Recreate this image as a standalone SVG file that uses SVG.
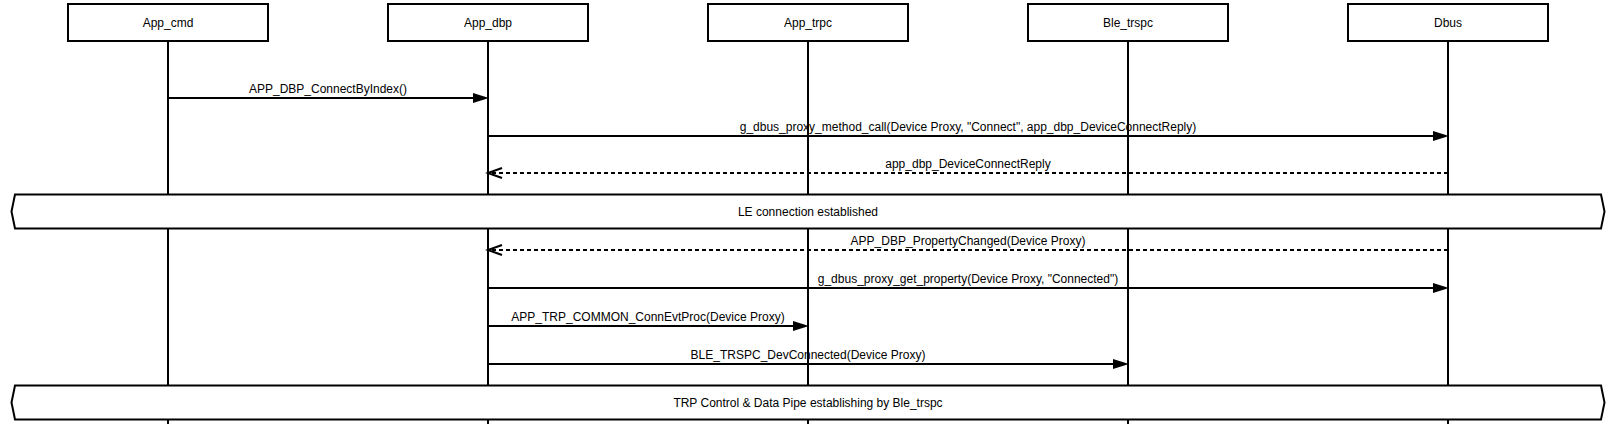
<svg xmlns="http://www.w3.org/2000/svg" width="1616" height="424" viewBox="0 0 1616 424">
<style>
text{font-family:"Liberation Sans",Arial,sans-serif;font-size:12px;fill:#000;text-anchor:middle}
.box{fill:#fff;stroke:#000;stroke-width:2}
.life{stroke:#000;stroke-width:2;fill:none}
.msg{stroke:#000;stroke-width:2;fill:none}
.dash{stroke-dasharray:4 3}
.banner{fill:#fff;stroke:#000;stroke-width:2}
</style>
<defs>
<marker id="solidHead" markerUnits="userSpaceOnUse" markerWidth="18" markerHeight="12" viewBox="0 0 18 12" refX="5" refY="6" orient="auto" overflow="visible">
<path d="M1,1 L17,6 L1,11 z" fill="#000" stroke="none"/>
</marker>
<marker id="openHead" markerUnits="userSpaceOnUse" markerWidth="16" markerHeight="12" viewBox="0 0 16 12" refX="15" refY="6" orient="auto" overflow="visible">
<path d="M1,1 L15,6 L1,11" fill="none" stroke="#000" stroke-width="2"/>
</marker>
</defs>

<g id="lifelines">
<line class="life" x1="168" y1="42" x2="168" y2="424"/>
<line class="life" x1="488" y1="42" x2="488" y2="424"/>
<line class="life" x1="808" y1="42" x2="808" y2="424"/>
<line class="life" x1="1128" y1="42" x2="1128" y2="424"/>
<line class="life" x1="1448" y1="42" x2="1448" y2="424"/>
</g>

<g id="node-app-cmd"><rect class="box" x="68" y="4" width="200" height="37"/><text x="168" y="27">App_cmd</text></g>
<g id="node-app-dbp"><rect class="box" x="388" y="4" width="200" height="37"/><text x="488" y="27">App_dbp</text></g>
<g id="node-app-trpc"><rect class="box" x="708" y="4" width="200" height="37"/><text x="808" y="27">App_trpc</text></g>
<g id="node-ble-trspc"><rect class="box" x="1028" y="4" width="200" height="37"/><text x="1128" y="27">Ble_trspc</text></g>
<g id="node-dbus"><rect class="box" x="1348" y="4" width="200" height="37"/><text x="1448" y="27">Dbus</text></g>

<g id="connectors">
<line class="msg" x1="168" y1="98" x2="477" y2="98" marker-end="url(#solidHead)"/>
<text x="328" y="93">APP_DBP_ConnectByIndex()</text>
<line class="msg" x1="488" y1="136" x2="1437" y2="136" marker-end="url(#solidHead)"/>
<text x="968" y="131">g_dbus_proxy_method_call(Device Proxy, "Connect", app_dbp_DeviceConnectReply)</text>
<line class="msg dash" x1="1448" y1="173" x2="488" y2="173" marker-end="url(#openHead)"/>
<text x="968" y="168">app_dbp_DeviceConnectReply</text>
<line class="msg dash" x1="1448" y1="250" x2="488" y2="250" marker-end="url(#openHead)"/>
<text x="968" y="245">APP_DBP_PropertyChanged(Device Proxy)</text>
<line class="msg" x1="488" y1="288" x2="1437" y2="288" marker-end="url(#solidHead)"/>
<text x="968" y="283">g_dbus_proxy_get_property(Device Proxy, "Connected")</text>
<line class="msg" x1="488" y1="326" x2="797" y2="326" marker-end="url(#solidHead)"/>
<text x="648" y="321">APP_TRP_COMMON_ConnEvtProc(Device Proxy)</text>
<line class="msg" x1="488" y1="364" x2="1117" y2="364" marker-end="url(#solidHead)"/>
<text x="808" y="359">BLE_TRSPC_DevConnected(Device Proxy)</text>
</g>

<g id="banner-le">
<path class="banner" d="M15,194.5 L1601,194.5 L1604.5,211.5 L1601,228.5 L15,228.5 L11.5,211.5 z"/>
<text x="808" y="216">LE connection established</text>
</g>
<g id="banner-trp">
<path class="banner" d="M15,385.5 L1601,385.5 L1604.5,402.5 L1601,419.5 L15,419.5 L11.5,402.5 z"/>
<text x="808" y="407">TRP Control &amp; Data Pipe establishing by Ble_trspc</text>
</g>
</svg>
